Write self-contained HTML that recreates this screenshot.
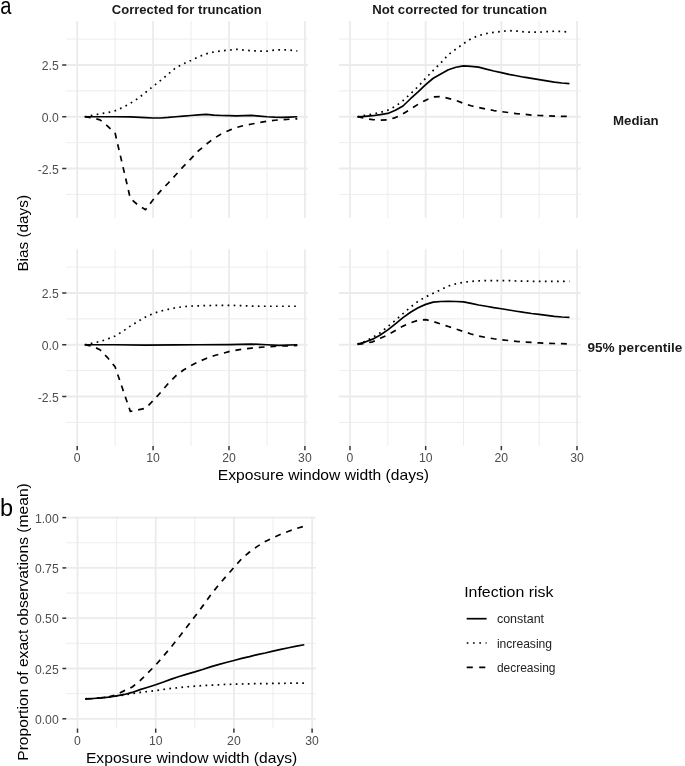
<!DOCTYPE html>
<html><head><meta charset="utf-8"><style>
html,body{margin:0;padding:0;background:#fff;}
body{width:685px;height:766px;overflow:hidden;font-family:"Liberation Sans",sans-serif;}
svg{display:block;will-change:transform;}
</style></head><body>
<svg width="685" height="766" viewBox="0 0 685 766" font-family="Liberation Sans, sans-serif">
<rect width="685" height="766" fill="#fff"/>
<line x1="66.2" y1="194.38" x2="307.8" y2="194.38" stroke="#ebebeb" stroke-width="0.9"/>
<line x1="66.2" y1="142.62" x2="307.8" y2="142.62" stroke="#ebebeb" stroke-width="0.9"/>
<line x1="66.2" y1="90.88" x2="307.8" y2="90.88" stroke="#ebebeb" stroke-width="0.9"/>
<line x1="66.2" y1="39.12" x2="307.8" y2="39.12" stroke="#ebebeb" stroke-width="0.9"/>
<line x1="115.15" y1="21" x2="115.15" y2="218.1" stroke="#ebebeb" stroke-width="0.9"/>
<line x1="191.05" y1="21" x2="191.05" y2="218.1" stroke="#ebebeb" stroke-width="0.9"/>
<line x1="266.95" y1="21" x2="266.95" y2="218.1" stroke="#ebebeb" stroke-width="0.9"/>
<line x1="66.2" y1="168.5" x2="307.8" y2="168.5" stroke="#ebebeb" stroke-width="1.8"/>
<line x1="66.2" y1="116.75" x2="307.8" y2="116.75" stroke="#ebebeb" stroke-width="1.8"/>
<line x1="66.2" y1="65" x2="307.8" y2="65" stroke="#ebebeb" stroke-width="1.8"/>
<line x1="77.2" y1="21" x2="77.2" y2="218.1" stroke="#ebebeb" stroke-width="1.8"/>
<line x1="153.1" y1="21" x2="153.1" y2="218.1" stroke="#ebebeb" stroke-width="1.8"/>
<line x1="229" y1="21" x2="229" y2="218.1" stroke="#ebebeb" stroke-width="1.8"/>
<line x1="304.9" y1="21" x2="304.9" y2="218.1" stroke="#ebebeb" stroke-width="1.8"/>
<line x1="339" y1="194.38" x2="580.8" y2="194.38" stroke="#ebebeb" stroke-width="0.9"/>
<line x1="339" y1="142.62" x2="580.8" y2="142.62" stroke="#ebebeb" stroke-width="0.9"/>
<line x1="339" y1="90.88" x2="580.8" y2="90.88" stroke="#ebebeb" stroke-width="0.9"/>
<line x1="339" y1="39.12" x2="580.8" y2="39.12" stroke="#ebebeb" stroke-width="0.9"/>
<line x1="387.83" y1="21" x2="387.83" y2="218.1" stroke="#ebebeb" stroke-width="0.9"/>
<line x1="463.5" y1="21" x2="463.5" y2="218.1" stroke="#ebebeb" stroke-width="0.9"/>
<line x1="539.17" y1="21" x2="539.17" y2="218.1" stroke="#ebebeb" stroke-width="0.9"/>
<line x1="339" y1="168.5" x2="580.8" y2="168.5" stroke="#ebebeb" stroke-width="1.8"/>
<line x1="339" y1="116.75" x2="580.8" y2="116.75" stroke="#ebebeb" stroke-width="1.8"/>
<line x1="339" y1="65" x2="580.8" y2="65" stroke="#ebebeb" stroke-width="1.8"/>
<line x1="350" y1="21" x2="350" y2="218.1" stroke="#ebebeb" stroke-width="1.8"/>
<line x1="425.67" y1="21" x2="425.67" y2="218.1" stroke="#ebebeb" stroke-width="1.8"/>
<line x1="501.34" y1="21" x2="501.34" y2="218.1" stroke="#ebebeb" stroke-width="1.8"/>
<line x1="577.01" y1="21" x2="577.01" y2="218.1" stroke="#ebebeb" stroke-width="1.8"/>
<line x1="66.2" y1="422.38" x2="307.8" y2="422.38" stroke="#ebebeb" stroke-width="0.9"/>
<line x1="66.2" y1="370.62" x2="307.8" y2="370.62" stroke="#ebebeb" stroke-width="0.9"/>
<line x1="66.2" y1="318.88" x2="307.8" y2="318.88" stroke="#ebebeb" stroke-width="0.9"/>
<line x1="66.2" y1="267.12" x2="307.8" y2="267.12" stroke="#ebebeb" stroke-width="0.9"/>
<line x1="115.15" y1="249.2" x2="115.15" y2="446" stroke="#ebebeb" stroke-width="0.9"/>
<line x1="191.05" y1="249.2" x2="191.05" y2="446" stroke="#ebebeb" stroke-width="0.9"/>
<line x1="266.95" y1="249.2" x2="266.95" y2="446" stroke="#ebebeb" stroke-width="0.9"/>
<line x1="66.2" y1="396.5" x2="307.8" y2="396.5" stroke="#ebebeb" stroke-width="1.8"/>
<line x1="66.2" y1="344.75" x2="307.8" y2="344.75" stroke="#ebebeb" stroke-width="1.8"/>
<line x1="66.2" y1="293" x2="307.8" y2="293" stroke="#ebebeb" stroke-width="1.8"/>
<line x1="77.2" y1="249.2" x2="77.2" y2="446" stroke="#ebebeb" stroke-width="1.8"/>
<line x1="153.1" y1="249.2" x2="153.1" y2="446" stroke="#ebebeb" stroke-width="1.8"/>
<line x1="229" y1="249.2" x2="229" y2="446" stroke="#ebebeb" stroke-width="1.8"/>
<line x1="304.9" y1="249.2" x2="304.9" y2="446" stroke="#ebebeb" stroke-width="1.8"/>
<line x1="339" y1="422.38" x2="580.8" y2="422.38" stroke="#ebebeb" stroke-width="0.9"/>
<line x1="339" y1="370.62" x2="580.8" y2="370.62" stroke="#ebebeb" stroke-width="0.9"/>
<line x1="339" y1="318.88" x2="580.8" y2="318.88" stroke="#ebebeb" stroke-width="0.9"/>
<line x1="339" y1="267.12" x2="580.8" y2="267.12" stroke="#ebebeb" stroke-width="0.9"/>
<line x1="387.83" y1="249.2" x2="387.83" y2="446" stroke="#ebebeb" stroke-width="0.9"/>
<line x1="463.5" y1="249.2" x2="463.5" y2="446" stroke="#ebebeb" stroke-width="0.9"/>
<line x1="539.17" y1="249.2" x2="539.17" y2="446" stroke="#ebebeb" stroke-width="0.9"/>
<line x1="339" y1="396.5" x2="580.8" y2="396.5" stroke="#ebebeb" stroke-width="1.8"/>
<line x1="339" y1="344.75" x2="580.8" y2="344.75" stroke="#ebebeb" stroke-width="1.8"/>
<line x1="339" y1="293" x2="580.8" y2="293" stroke="#ebebeb" stroke-width="1.8"/>
<line x1="350" y1="249.2" x2="350" y2="446" stroke="#ebebeb" stroke-width="1.8"/>
<line x1="425.67" y1="249.2" x2="425.67" y2="446" stroke="#ebebeb" stroke-width="1.8"/>
<line x1="501.34" y1="249.2" x2="501.34" y2="446" stroke="#ebebeb" stroke-width="1.8"/>
<line x1="577.01" y1="249.2" x2="577.01" y2="446" stroke="#ebebeb" stroke-width="1.8"/>
<polyline points="84.79,116.75 92.38,115.3 99.97,113.85 107.56,112.61 115.15,110.75 122.74,107.44 130.33,103.3 137.92,98.53 145.51,92.53 153.1,86.32 160.69,80.32 168.28,74.11 175.87,67.69 183.46,63.76 191.05,60.45 198.64,56.72 206.23,53.82 213.82,51.96 221.41,50.92 229,50.1 236.59,49.27 244.18,50.1 251.77,50.72 259.36,51.13 266.95,51.13 274.54,50.1 282.13,49.68 289.72,50.1 297.31,50.92" fill="none" stroke="#000" stroke-width="1.7" stroke-linejoin="round" stroke-dasharray="1.7 4.35"/>
<polyline points="84.79,116.75 92.38,117.78 99.97,119.86 107.56,126.06 115.15,133.31 122.74,165.81 130.33,198.51 137.92,204.93 145.51,209.69 153.1,199.76 160.69,190.86 168.28,182.99 175.87,174.71 183.46,166.43 191.05,158.56 198.64,150.7 206.23,144.28 213.82,138.49 221.41,133.93 229,130.41 236.59,127.51 244.18,125.44 251.77,124 259.36,122.55 266.95,121.3 274.54,120.27 282.13,119.65 289.72,119.23 297.31,118.82" fill="none" stroke="#000" stroke-width="1.7" stroke-linejoin="round" stroke-dasharray="5.9 5.85"/>
<polyline points="84.79,116.75 99.97,116.75 115.15,116.75 130.33,116.96 145.51,117.58 153.1,117.99 160.69,117.99 168.28,117.47 175.87,116.75 183.46,116.03 191.05,115.51 198.64,114.89 206.23,114.47 213.82,115.09 221.41,115.51 229,115.72 236.59,115.92 244.18,115.72 251.77,115.4 259.36,116.13 266.95,116.75 274.54,117.16 282.13,117.37 289.72,117.06 297.31,116.75" fill="none" stroke="#000" stroke-width="1.7" stroke-linejoin="round"/>
<polyline points="357.57,116.75 365.13,115.3 372.7,114.06 380.27,112.4 387.83,110.13 395.4,106.4 402.97,100.6 410.54,93.77 418.1,86.53 425.67,78.25 433.24,70.38 440.8,62.93 448.37,54.65 455.94,49.06 463.5,43.68 471.07,38.71 478.64,35.61 486.21,33.54 493.77,32.29 501.34,31.47 508.91,30.64 516.47,31.05 524.04,31.88 531.61,32.19 539.17,32.19 546.74,31.67 554.31,31.26 561.88,31.47 569.44,32.09" fill="none" stroke="#000" stroke-width="1.7" stroke-linejoin="round" stroke-dasharray="1.7 4.35"/>
<polyline points="357.57,116.75 365.13,118.41 372.7,119.65 380.27,120.06 387.83,119.86 395.4,117.58 402.97,113.85 410.54,109.09 418.1,104.33 425.67,100.19 433.24,96.88 440.8,96.67 448.37,98.33 455.94,100.4 463.5,103.3 471.07,105.78 478.64,107.44 486.21,109.09 493.77,110.54 501.34,111.58 508.91,112.61 516.47,113.64 524.04,114.27 531.61,115.09 539.17,115.51 546.74,115.82 554.31,116.13 561.88,116.34 569.44,116.44" fill="none" stroke="#000" stroke-width="1.7" stroke-linejoin="round" stroke-dasharray="5.9 5.85"/>
<polyline points="357.57,116.75 365.13,116.34 372.7,115.72 380.27,114.68 387.83,113.44 395.4,110.33 402.97,105.99 410.54,98.74 418.1,91.91 425.67,84.66 433.24,78.25 440.8,73.9 448.37,69.76 455.94,67.28 463.5,65.83 471.07,66.45 478.64,67.07 486.21,69.14 493.77,71 501.34,72.66 508.91,74.31 516.47,75.76 524.04,77.21 531.61,78.45 539.17,79.7 546.74,80.94 554.31,82.18 561.88,83.01 569.44,83.63" fill="none" stroke="#000" stroke-width="1.7" stroke-linejoin="round"/>
<polyline points="84.79,344.75 92.38,343.09 99.97,341.64 107.56,338.95 115.15,336.06 122.74,331.3 130.33,326.12 137.92,321.36 145.51,317.01 153.1,313.49 160.69,311.01 168.28,309.35 175.87,307.7 183.46,306.66 191.05,306.04 198.64,305.83 206.23,305.63 213.82,305.42 221.41,305.32 229,305.32 236.59,305.52 244.18,305.73 251.77,306.04 259.36,306.25 266.95,306.25 274.54,306.25 282.13,306.25 289.72,306.25 297.31,306.25" fill="none" stroke="#000" stroke-width="1.7" stroke-linejoin="round" stroke-dasharray="1.7 4.35"/>
<polyline points="84.79,344.75 92.38,346.2 99.97,349.72 107.56,357.58 115.15,366.9 122.74,389.25 130.33,411.4 137.92,409.95 145.51,408.3 153.1,400.64 160.69,392.36 168.28,383.46 175.87,375.8 183.46,370 191.05,365.45 198.64,361.72 206.23,358.41 213.82,355.72 221.41,353.65 229,351.58 236.59,350.13 244.18,348.89 251.77,348.06 259.36,347.44 266.95,346.82 274.54,346.3 282.13,345.99 289.72,345.74 297.31,345.47" fill="none" stroke="#000" stroke-width="1.7" stroke-linejoin="round" stroke-dasharray="5.9 5.85"/>
<polyline points="84.79,344.75 115.15,344.75 145.51,345.16 175.87,344.96 198.64,344.75 229,344.54 251.77,344.13 266.95,344.75 279.09,345.37 297.31,344.75" fill="none" stroke="#000" stroke-width="1.7" stroke-linejoin="round"/>
<polyline points="357.57,344.13 365.13,341.44 372.7,337.3 380.27,332.74 387.83,326.53 395.4,320.32 402.97,313.7 410.54,307.08 418.1,301.28 425.67,296.93 433.24,293.21 440.8,289.69 448.37,285.96 455.94,283.89 463.5,282.24 471.07,281.41 478.64,280.79 486.21,280.58 493.77,280.58 501.34,280.58 508.91,280.58 516.47,280.99 524.04,281.1 531.61,281.3 539.17,281.41 546.74,281.41 554.31,281.41 561.88,281.41 569.44,281.41" fill="none" stroke="#000" stroke-width="1.7" stroke-linejoin="round" stroke-dasharray="1.7 4.35"/>
<polyline points="357.57,344.34 365.13,343.3 372.7,341.85 380.27,338.33 387.83,334.81 395.4,330.47 402.97,326.12 410.54,322.81 418.1,320.32 425.67,319.7 433.24,321.57 440.8,324.05 448.37,326.53 455.94,329.02 463.5,331.5 471.07,333.99 478.64,336.06 486.21,337.5 493.77,338.75 501.34,339.78 508.91,340.61 516.47,341.44 524.04,342.06 531.61,342.47 539.17,342.89 546.74,343.3 554.31,343.51 561.88,343.71 569.44,343.88" fill="none" stroke="#000" stroke-width="1.7" stroke-linejoin="round" stroke-dasharray="5.9 5.85"/>
<polyline points="357.57,344.13 365.13,342.06 372.7,339.16 380.27,335.02 387.83,329.85 395.4,323.84 402.97,317.63 410.54,312.25 418.1,307.7 425.67,304.38 433.24,302.11 440.8,301.49 448.37,301.28 455.94,301.49 463.5,301.9 471.07,303.35 478.64,305.01 486.21,306.25 493.77,307.7 501.34,308.73 508.91,309.97 516.47,311.22 524.04,312.46 531.61,313.49 539.17,314.32 546.74,315.36 554.31,316.39 561.88,317.01 569.44,317.43" fill="none" stroke="#000" stroke-width="1.7" stroke-linejoin="round"/>
<line x1="62.2" y1="65" x2="66.3" y2="65" stroke="#333333" stroke-width="1.5"/>
<text x="58.7" y="70.2" font-size="12.2" fill="#4d4d4d" text-anchor="end">2.5</text>
<line x1="62.2" y1="116.75" x2="66.3" y2="116.75" stroke="#333333" stroke-width="1.5"/>
<text x="58.7" y="121.95" font-size="12.2" fill="#4d4d4d" text-anchor="end">0.0</text>
<line x1="62.2" y1="168.5" x2="66.3" y2="168.5" stroke="#333333" stroke-width="1.5"/>
<text x="58.7" y="173.7" font-size="12.2" fill="#4d4d4d" text-anchor="end">-2.5</text>
<line x1="62.2" y1="293" x2="66.3" y2="293" stroke="#333333" stroke-width="1.5"/>
<text x="58.7" y="298.2" font-size="12.2" fill="#4d4d4d" text-anchor="end">2.5</text>
<line x1="62.2" y1="344.75" x2="66.3" y2="344.75" stroke="#333333" stroke-width="1.5"/>
<text x="58.7" y="349.95" font-size="12.2" fill="#4d4d4d" text-anchor="end">0.0</text>
<line x1="62.2" y1="396.5" x2="66.3" y2="396.5" stroke="#333333" stroke-width="1.5"/>
<text x="58.7" y="401.7" font-size="12.2" fill="#4d4d4d" text-anchor="end">-2.5</text>
<line x1="77.2" y1="446.0" x2="77.2" y2="450.2" stroke="#333333" stroke-width="1.5"/>
<text x="77.2" y="462.4" font-size="12.2" fill="#4d4d4d" text-anchor="middle">0</text>
<line x1="153.1" y1="446.0" x2="153.1" y2="450.2" stroke="#333333" stroke-width="1.5"/>
<text x="153.1" y="462.4" font-size="12.2" fill="#4d4d4d" text-anchor="middle">10</text>
<line x1="229" y1="446.0" x2="229" y2="450.2" stroke="#333333" stroke-width="1.5"/>
<text x="229" y="462.4" font-size="12.2" fill="#4d4d4d" text-anchor="middle">20</text>
<line x1="304.9" y1="446.0" x2="304.9" y2="450.2" stroke="#333333" stroke-width="1.5"/>
<text x="304.9" y="462.4" font-size="12.2" fill="#4d4d4d" text-anchor="middle">30</text>
<line x1="350" y1="446.0" x2="350" y2="450.2" stroke="#333333" stroke-width="1.5"/>
<text x="350" y="462.4" font-size="12.2" fill="#4d4d4d" text-anchor="middle">0</text>
<line x1="425.67" y1="446.0" x2="425.67" y2="450.2" stroke="#333333" stroke-width="1.5"/>
<text x="425.67" y="462.4" font-size="12.2" fill="#4d4d4d" text-anchor="middle">10</text>
<line x1="501.34" y1="446.0" x2="501.34" y2="450.2" stroke="#333333" stroke-width="1.5"/>
<text x="501.34" y="462.4" font-size="12.2" fill="#4d4d4d" text-anchor="middle">20</text>
<line x1="577.01" y1="446.0" x2="577.01" y2="450.2" stroke="#333333" stroke-width="1.5"/>
<text x="577.01" y="462.4" font-size="12.2" fill="#4d4d4d" text-anchor="middle">30</text>
<text x="186.8" y="13.9" font-size="13.6" fill="#1a1a1a" text-anchor="middle" font-weight="bold" textLength="150" lengthAdjust="spacingAndGlyphs">Corrected for truncation</text>
<text x="459.6" y="13.9" font-size="13.6" fill="#1a1a1a" text-anchor="middle" font-weight="bold" textLength="174.7" lengthAdjust="spacingAndGlyphs">Not corrected for truncation</text>
<text x="635.8" y="124.6" font-size="13.6" fill="#1a1a1a" text-anchor="middle" font-weight="bold" textLength="45.6" lengthAdjust="spacingAndGlyphs">Median</text>
<text x="634.9" y="352.4" font-size="13.6" fill="#1a1a1a" text-anchor="middle" font-weight="bold" textLength="95" lengthAdjust="spacingAndGlyphs">95% percentile</text>
<text x="323.4" y="479.6" font-size="15" fill="#000" text-anchor="middle" textLength="211.3" lengthAdjust="spacingAndGlyphs">Exposure window width (days)</text>
<text x="28.3" y="233.3" font-size="15" fill="#000" text-anchor="middle" textLength="76.6" lengthAdjust="spacingAndGlyphs" transform="rotate(-90 28.3 233.3)">Bias (days)</text>
<text x="0.2" y="14.2" font-size="23.5" fill="#000" textLength="11.2" lengthAdjust="spacingAndGlyphs">a</text>
<text x="0" y="516" font-size="23.5" fill="#000">b</text>
<line x1="66.2" y1="693.65" x2="315.8" y2="693.65" stroke="#ebebeb" stroke-width="0.9"/>
<line x1="66.2" y1="643.35" x2="315.8" y2="643.35" stroke="#ebebeb" stroke-width="0.9"/>
<line x1="66.2" y1="593.05" x2="315.8" y2="593.05" stroke="#ebebeb" stroke-width="0.9"/>
<line x1="66.2" y1="542.75" x2="315.8" y2="542.75" stroke="#ebebeb" stroke-width="0.9"/>
<line x1="116.6" y1="516.4" x2="116.6" y2="728.3" stroke="#ebebeb" stroke-width="0.9"/>
<line x1="194.8" y1="516.4" x2="194.8" y2="728.3" stroke="#ebebeb" stroke-width="0.9"/>
<line x1="273" y1="516.4" x2="273" y2="728.3" stroke="#ebebeb" stroke-width="0.9"/>
<line x1="66.2" y1="718.8" x2="315.8" y2="718.8" stroke="#ebebeb" stroke-width="1.8"/>
<line x1="66.2" y1="668.5" x2="315.8" y2="668.5" stroke="#ebebeb" stroke-width="1.8"/>
<line x1="66.2" y1="618.2" x2="315.8" y2="618.2" stroke="#ebebeb" stroke-width="1.8"/>
<line x1="66.2" y1="567.9" x2="315.8" y2="567.9" stroke="#ebebeb" stroke-width="1.8"/>
<line x1="66.2" y1="517.6" x2="315.8" y2="517.6" stroke="#ebebeb" stroke-width="1.8"/>
<line x1="77.5" y1="516.4" x2="77.5" y2="728.3" stroke="#ebebeb" stroke-width="1.8"/>
<line x1="155.7" y1="516.4" x2="155.7" y2="728.3" stroke="#ebebeb" stroke-width="1.8"/>
<line x1="233.9" y1="516.4" x2="233.9" y2="728.3" stroke="#ebebeb" stroke-width="1.8"/>
<line x1="312.1" y1="516.4" x2="312.1" y2="728.3" stroke="#ebebeb" stroke-width="1.8"/>
<polyline points="85.32,698.78 93.14,698.48 100.96,697.88 108.78,697.07 116.6,696.06 124.42,694.86 132.24,693.65 140.06,692.44 147.88,691.44 155.7,690.63 163.52,689.42 171.34,688.42 179.16,687.61 186.98,686.81 194.8,686.21 202.62,685.6 210.44,685.2 218.26,684.8 226.08,684.39 233.9,684.19 241.72,683.99 249.54,683.79 257.36,683.59 265.18,683.59 273,683.39 280.82,683.39 288.64,683.19 296.46,683.19 304.28,683.19" fill="none" stroke="#000" stroke-width="1.7" stroke-linejoin="round" stroke-dasharray="1.7 4.35"/>
<polyline points="85.32,698.78 93.14,698.48 100.96,697.88 108.78,696.87 116.6,694.66 124.42,690.63 132.24,687.01 140.06,680.57 147.88,672.93 155.7,665.08 163.52,656.03 171.34,646.77 179.16,636.91 186.98,626.85 194.8,616.59 202.62,606.13 210.44,595.26 218.26,585.4 226.08,576.35 233.9,567.5 241.72,558.64 249.54,552.01 257.36,546.37 265.18,541.54 273,537.72 280.82,534.1 288.64,531.28 296.46,528.46 304.28,526.25" fill="none" stroke="#000" stroke-width="1.7" stroke-linejoin="round" stroke-dasharray="5.9 5.85"/>
<polyline points="85.32,698.78 93.14,698.48 100.96,697.88 108.78,697.07 116.6,695.86 124.42,694.45 132.24,692.44 140.06,689.63 147.88,687.21 155.7,684.8 163.52,681.98 171.34,679.16 179.16,676.55 186.98,674.13 194.8,671.92 202.62,669.51 210.44,666.89 218.26,664.68 226.08,662.46 233.9,660.45 241.72,658.44 249.54,656.63 257.36,654.62 265.18,653.01 273,651.2 280.82,649.39 288.64,647.78 296.46,646.17 304.28,644.76" fill="none" stroke="#000" stroke-width="1.7" stroke-linejoin="round"/>
<line x1="62.4" y1="517.6" x2="66.2" y2="517.6" stroke="#333333" stroke-width="1.5"/>
<text x="58.7" y="522.8" font-size="12.2" fill="#4d4d4d" text-anchor="end">1.00</text>
<line x1="62.4" y1="567.9" x2="66.2" y2="567.9" stroke="#333333" stroke-width="1.5"/>
<text x="58.7" y="573.1" font-size="12.2" fill="#4d4d4d" text-anchor="end">0.75</text>
<line x1="62.4" y1="618.2" x2="66.2" y2="618.2" stroke="#333333" stroke-width="1.5"/>
<text x="58.7" y="623.4" font-size="12.2" fill="#4d4d4d" text-anchor="end">0.50</text>
<line x1="62.4" y1="668.5" x2="66.2" y2="668.5" stroke="#333333" stroke-width="1.5"/>
<text x="58.7" y="673.7" font-size="12.2" fill="#4d4d4d" text-anchor="end">0.25</text>
<line x1="62.4" y1="718.8" x2="66.2" y2="718.8" stroke="#333333" stroke-width="1.5"/>
<text x="58.7" y="724" font-size="12.2" fill="#4d4d4d" text-anchor="end">0.00</text>
<line x1="77.5" y1="728.5" x2="77.5" y2="732.8" stroke="#333333" stroke-width="1.5"/>
<text x="77.5" y="744.6" font-size="12.2" fill="#4d4d4d" text-anchor="middle">0</text>
<line x1="155.7" y1="728.5" x2="155.7" y2="732.8" stroke="#333333" stroke-width="1.5"/>
<text x="155.7" y="744.6" font-size="12.2" fill="#4d4d4d" text-anchor="middle">10</text>
<line x1="233.9" y1="728.5" x2="233.9" y2="732.8" stroke="#333333" stroke-width="1.5"/>
<text x="233.9" y="744.6" font-size="12.2" fill="#4d4d4d" text-anchor="middle">20</text>
<line x1="312.1" y1="728.5" x2="312.1" y2="732.8" stroke="#333333" stroke-width="1.5"/>
<text x="312.1" y="744.6" font-size="12.2" fill="#4d4d4d" text-anchor="middle">30</text>
<text x="191.6" y="762.7" font-size="15" fill="#000" text-anchor="middle" textLength="211.3" lengthAdjust="spacingAndGlyphs">Exposure window width (days)</text>
<text x="28.3" y="622" font-size="15" fill="#000" text-anchor="middle" textLength="277.5" lengthAdjust="spacingAndGlyphs" transform="rotate(-90 28.3 622)">Proportion of exact observations (mean)</text>
<text x="464.2" y="597.4" font-size="15" fill="#000" textLength="89.2" lengthAdjust="spacingAndGlyphs">Infection risk</text>
<line x1="466.7" y1="618.7" x2="486.6" y2="618.7" stroke="#000" stroke-width="1.7"/>
<text x="496.9" y="623.3" font-size="12.8" fill="#222" textLength="47.2" lengthAdjust="spacingAndGlyphs">constant</text>
<line x1="466.7" y1="643" x2="486.6" y2="643" stroke="#000" stroke-width="1.7" stroke-dasharray="1.7 4.6"/>
<text x="496.9" y="647.6" font-size="12.8" fill="#222" textLength="55.2" lengthAdjust="spacingAndGlyphs">increasing</text>
<line x1="466.7" y1="667.3" x2="486.6" y2="667.3" stroke="#000" stroke-width="1.7" stroke-dasharray="6.1 6.4"/>
<text x="496.9" y="671.9" font-size="12.8" fill="#222" textLength="58.6" lengthAdjust="spacingAndGlyphs">decreasing</text>
</svg>
</body></html>
